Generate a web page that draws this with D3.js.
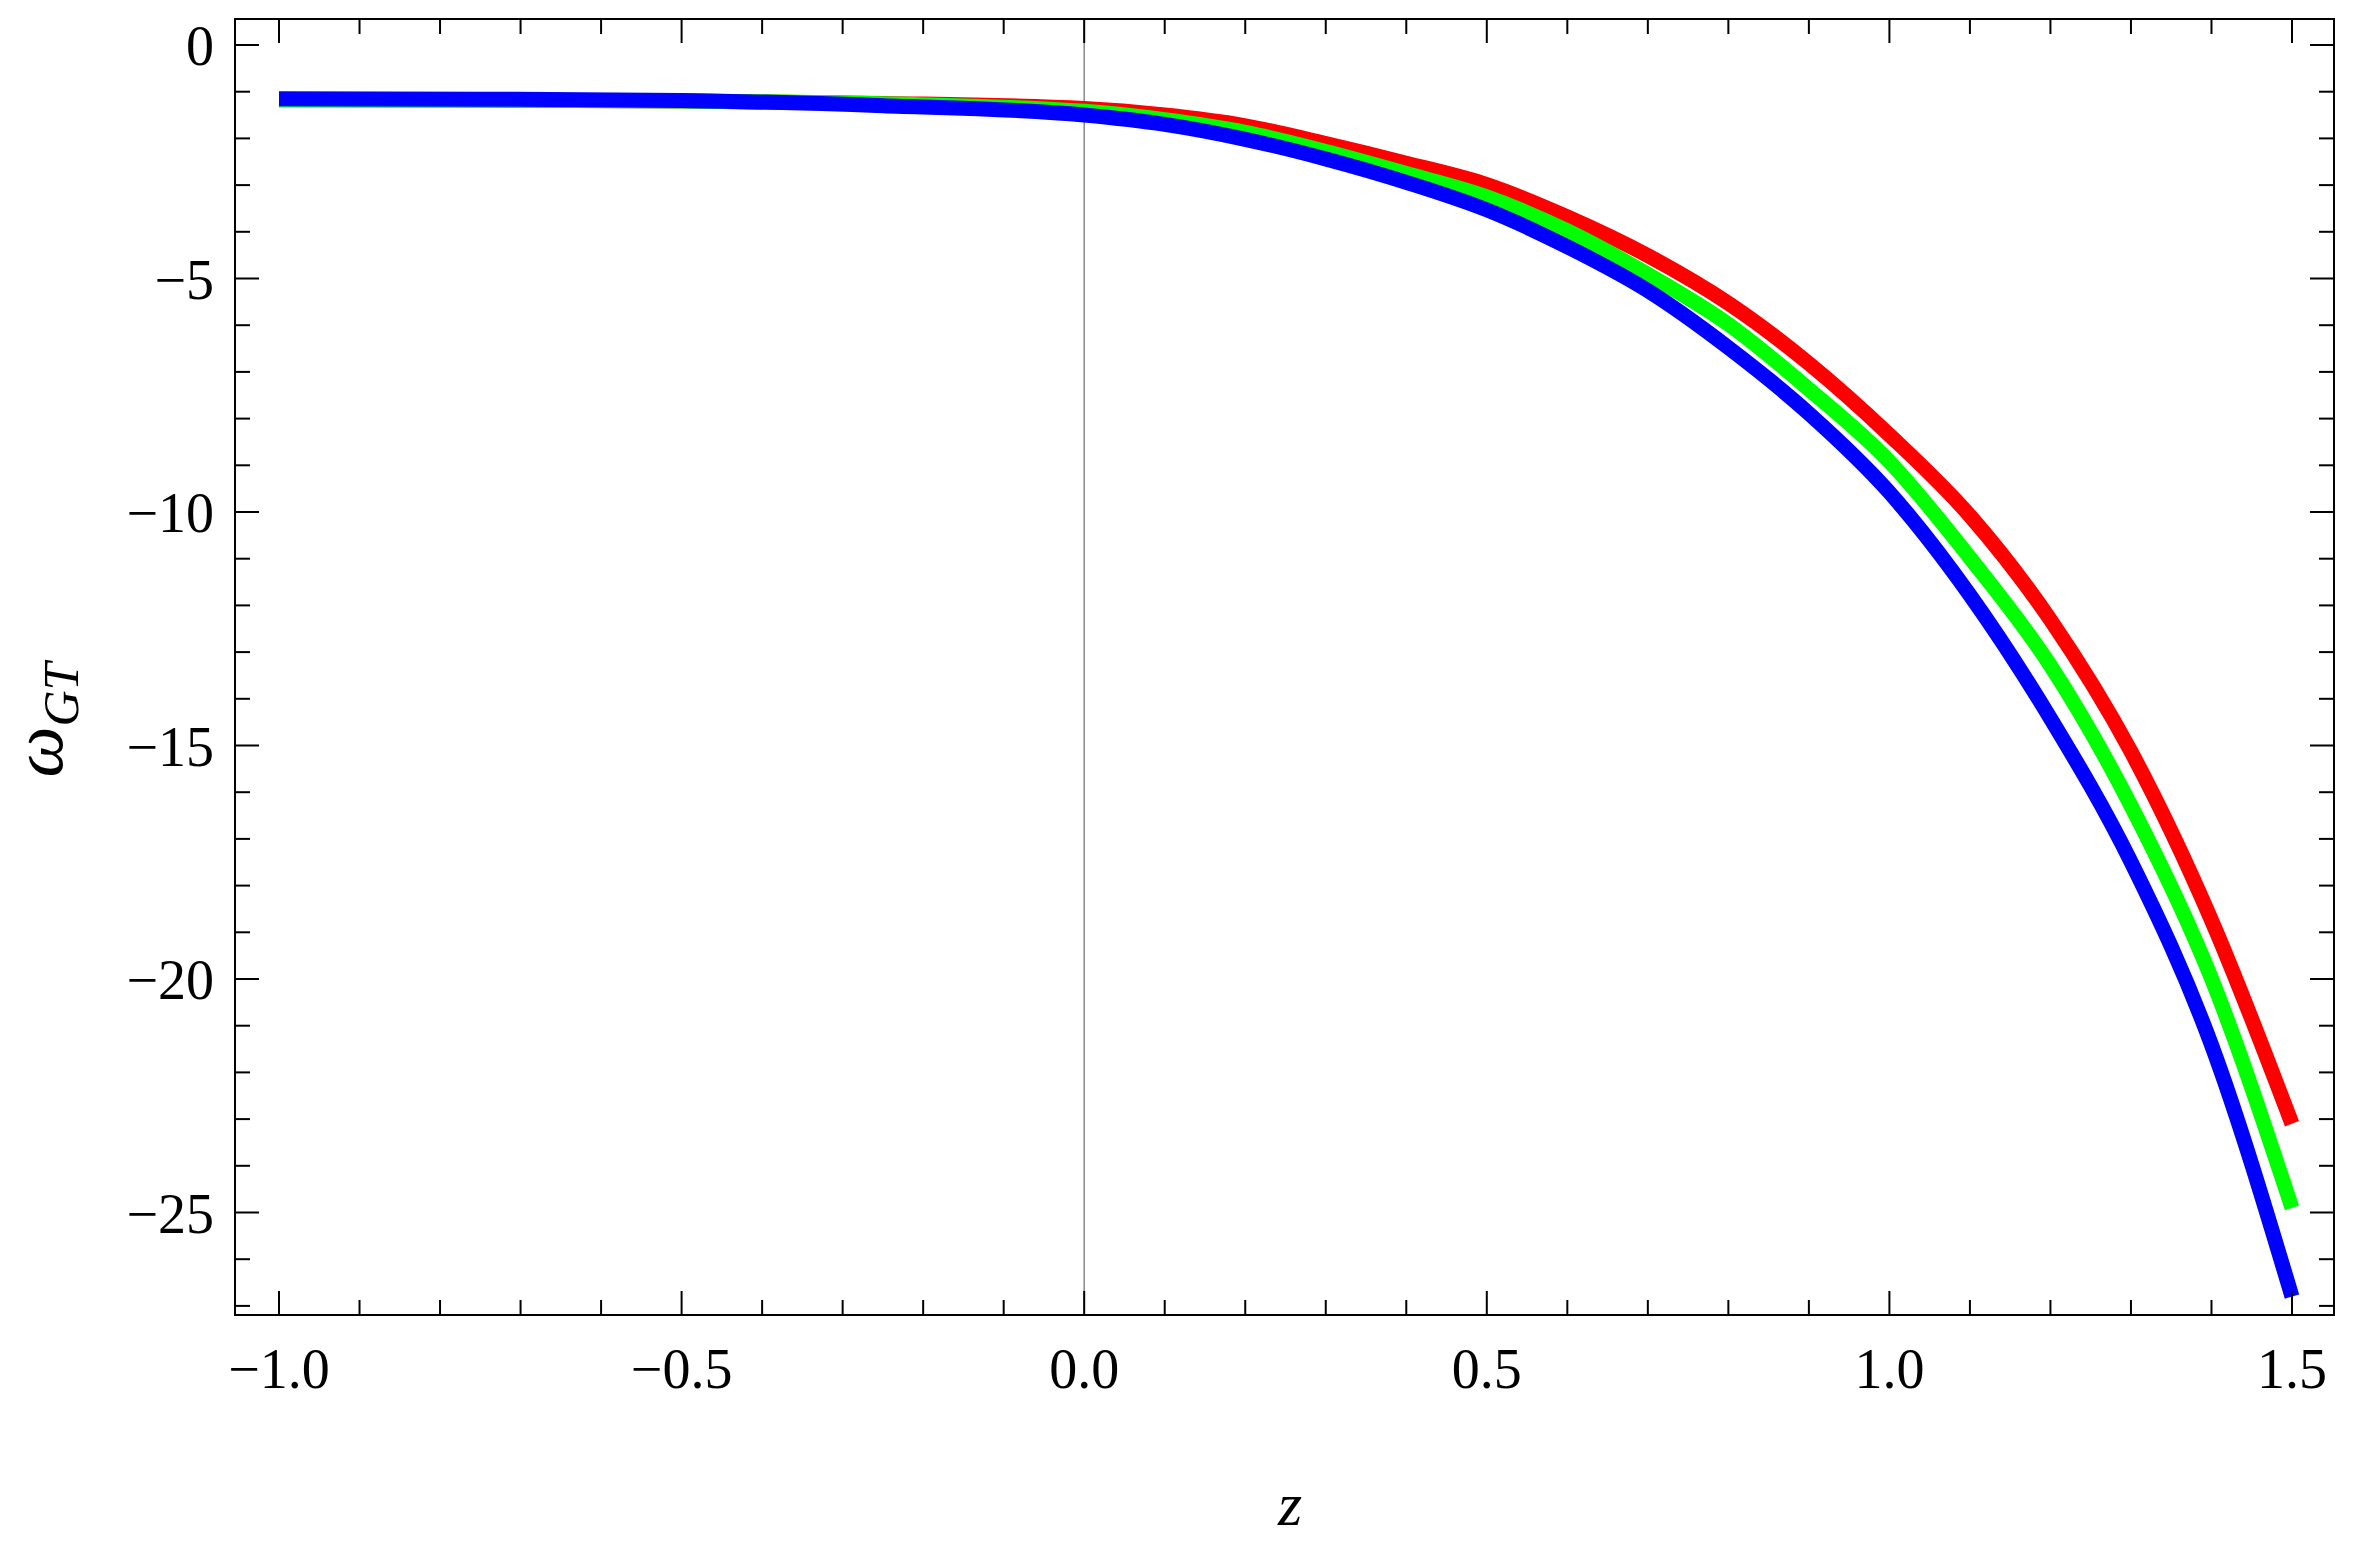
<!DOCTYPE html>
<html>
<head>
<meta charset="utf-8">
<script src="https://cdn.jsdelivr.net/npm/d3@7"></script>
<style>
  body { margin: 0; background: #fff; }
  text { font-family: "Liberation Serif", "DejaVu Serif", serif; }
</style>
</head>
<body>
<div id="chart"></div>
<script>
// values
var zValues = [-1.0, -0.75, -0.5, -0.25, 0.0, 0.1, 0.2, 0.3, 0.4, 0.5, 0.6, 0.7, 0.8, 0.9, 1.0, 1.1, 1.2, 1.3, 1.4, 1.5];
var redValues   = [-1.17, -1.18, -1.20, -1.25, -1.36, -1.50, -1.73, -2.11, -2.53, -2.99, -3.68, -4.51, -5.53, -6.82, -8.35, -10.08, -12.31, -15.13, -18.74, -23.1];
var greenValues = [-1.17, -1.18, -1.20, -1.26, -1.42, -1.60, -1.87, -2.28, -2.75, -3.25, -3.98, -4.91, -5.98, -7.37, -8.92, -10.98, -13.29, -16.29, -19.99, -24.9];
var blueValues  = [-1.15, -1.16, -1.19, -1.30, -1.50, -1.70, -2.02, -2.44, -2.94, -3.53, -4.32, -5.26, -6.48, -7.89, -9.58, -11.78, -14.42, -17.49, -21.41, -26.8];
var seriesColors = ['#ff0000', '#00ff00', '#0000ff'];
var xTickLabels = [-1.0, -0.5, 0.0, 0.5, 1.0, 1.5];
var yTickLabels = [0, -5, -10, -15, -20, -25];

var svgWidth = 2368, svgHeight = 1549;
var frameLeft = 235, frameRight = 2334, frameTop = 19, frameBottom = 1315;

var svg = d3.select('#chart').append('svg')
    .attr('width', svgWidth)
    .attr('height', svgHeight);

// z=-1 at 279px, z=1.5 at 2292px; y=0 at 45px, 46.7px per unit
var x = d3.scaleLinear().domain([-1, 1.5]).range([279, 2292]);
var y = d3.scaleLinear().domain([0, -27.25]).range([45, 45 + 27.25 * 46.7]);

// vertical line at z = 0
svg.append('line')
    .attr('x1', x(0)).attr('x2', x(0))
    .attr('y1', frameTop).attr('y2', frameBottom)
    .attr('stroke', '#888').attr('stroke-width', 1.5);

var lineGen = d3.line()
    .x(function(d) { return x(d[0]); })
    .y(function(d) { return y(d[1]); })
    .curve(d3.curveMonotoneX);

[redValues, greenValues, blueValues].forEach(function(vals, i) {
    svg.append('path')
        .datum(zValues.map(function(z, k) { return [z, vals[k]]; }))
        .attr('d', lineGen)
        .attr('fill', 'none')
        .attr('stroke', seriesColors[i])
        .attr('stroke-width', 15);
});

// frame
svg.append('rect')
    .attr('x', frameLeft).attr('y', frameTop)
    .attr('width', frameRight - frameLeft).attr('height', frameBottom - frameTop)
    .attr('fill', 'none').attr('stroke', '#000').attr('stroke-width', 2);

// ticks on all four sides, pointing in
var xMinor = d3.range(-10, 16).map(function(i) { return i / 10; });
xMinor.forEach(function(v) {
    var major = Math.abs(v * 2 - Math.round(v * 2)) < 1e-6;
    var len = major ? 24 : 15;
    svg.append('line').attr('x1', x(v)).attr('x2', x(v))
        .attr('y1', frameBottom).attr('y2', frameBottom - len)
        .attr('stroke', '#000').attr('stroke-width', 2);
    svg.append('line').attr('x1', x(v)).attr('x2', x(v))
        .attr('y1', frameTop).attr('y2', frameTop + len)
        .attr('stroke', '#000').attr('stroke-width', 2);
});
var yMinor = d3.range(-27, 1);
yMinor.forEach(function(v) {
    var len = (v % 5 === 0) ? 24 : 15;
    svg.append('line').attr('x1', frameLeft).attr('x2', frameLeft + len)
        .attr('y1', y(v)).attr('y2', y(v))
        .attr('stroke', '#000').attr('stroke-width', 2);
    svg.append('line').attr('x1', frameRight).attr('x2', frameRight - len)
        .attr('y1', y(v)).attr('y2', y(v))
        .attr('stroke', '#000').attr('stroke-width', 2);
});

// tick labels
svg.selectAll('.xlab').data(xTickLabels).enter().append('text')
    .attr('x', function(d) { return x(d); })
    .attr('y', 1388)
    .attr('text-anchor', 'middle')
    .style('font-size', '56px')
    .text(function(d) { return d3.format('.1f')(d).replace('-', '\u2212'); });

svg.selectAll('.ylab').data(yTickLabels).enter().append('text')
    .attr('x', 214)
    .attr('y', function(d) { return y(d) + 20; })
    .attr('text-anchor', 'end')
    .style('font-size', '56px')
    .text(function(d) { return String(d).replace('-', '\u2212'); });

// axis titles
svg.append('text')
    .attr('x', 1290).attr('y', 1525)
    .attr('text-anchor', 'middle')
    .style('font-size', '62px').style('font-style', 'italic')
    .text('z');

var yt = svg.append('text')
    .attr('transform', 'translate(62,720) rotate(-90)')
    .attr('text-anchor', 'middle')
    .style('font-size', '72px').style('font-style', 'italic');
yt.append('tspan').text('\u03c9');
yt.append('tspan').attr('dy', 16).style('font-size', '50px').text('GT');
</script>
</body>
</html>
